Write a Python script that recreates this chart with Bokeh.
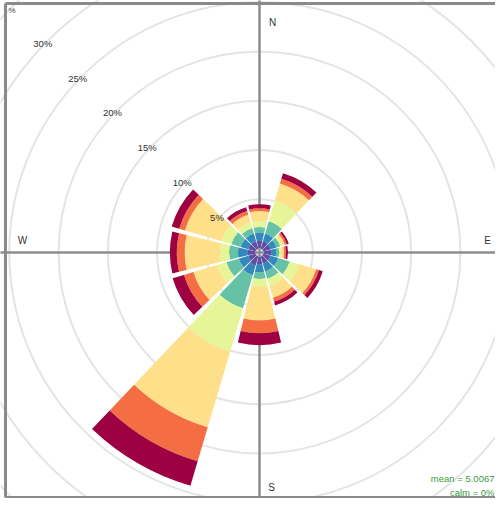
import math
from bokeh.plotting import figure
from bokeh.models import Range1d
from bokeh.embed import file_html
from bokeh.resources import INLINE
from bokeh.core.properties import value

# ---------------- data ----------------
directions = [0, 30, 60, 90, 120, 150, 180, 210, 240, 270, 300, 330]
speed_bins = ["bin1", "bin2", "bin3", "bin4", "bin5", "bin6", "bin7"]
bin_colors = ["#5E4FA2", "#3288BD", "#66C2A5", "#E6F598", "#FEE08B", "#F46D43", "#9E0142"]

# frequency (%) of each speed bin, per direction
bin1 = [0.8, 0.8, 0.8, 0.8, 0.8, 0.8, 0.8, 1.0, 0.8, 0.8, 0.8, 0.8]
bin2 = [0.8, 0.8, 0.6, 0.5, 0.8, 0.8, 0.8, 1.0, 1.0, 1.0, 0.8, 0.8]
bin3 = [0.6, 1.3, 0.4, 0.3, 1.2, 0.8, 0.7, 3.5, 1.3, 0.9, 1.0, 0.6]
bin4 = [0.6, 2.2, 0.2, 0.2, 1.0, 0.7, 0.8, 4.6, 1.0, 0.9, 1.0, 0.6]
bin5 = [1.0, 1.8, 0.3, 0.3, 1.8, 1.3, 3.4, 8.0, 2.5, 3.6, 3.9, 0.8]
bin6 = [0.3, 0.5, 0.2, 0.2, 0.3, 0.4, 1.3, 3.6, 1.0, 0.8, 0.6, 0.4]
bin7 = [0.4, 0.6, 0.2, 0.2, 0.4, 0.4, 1.2, 2.6, 1.2, 0.7, 0.8, 0.4]
bins = [bin1, bin2, bin3, bin4, bin5, bin6, bin7]

grid_pcts = [5, 10, 15, 20, 25, 30, 35]
grid_labels = ["5%", "10%", "15%", "20%", "25%", "30%"]
compass = ["N", "E", "S", "W"]
stats_text = ["mean = 5.0067", "calm = 0%"]

# ---------------- layout constants ----------------
K = 9.85           # px per percent
OFFSET = 0.4       # centre hole (percent units)
HALF = 13.5        # half width of a wedge (deg)
W, H = 495, 498
CX, CY = 259, 252  # centre in px from figure top-left

def px_x(px):
    return (px - CX) / K

def px_y(py):
    return (CY - py) / K

p = figure(width=W, height=H, output_backend="svg", toolbar_location=None,
           x_range=Range1d(px_x(0), px_x(W)),
           y_range=Range1d(px_y(H), px_y(0)),
           min_border=0, background_fill_color="white")
p.axis.visible = False
p.grid.visible = False
p.outline_line_color = None

# grid circles
p.circle(x=[0] * len(grid_pcts), y=[0] * len(grid_pcts),
         radius=[OFFSET + g for g in grid_pcts], radius_units="data",
         fill_color=None, line_color="#e4e4e4", line_width=2)

# axis lines
big = 60
p.segment(x0=[-big, 0], y0=[0, -big], x1=[big, 0], y1=[0, big],
          line_color="#8c8c8c", line_width=2.5)

# wedges
xs, ys, inner, outer, starts, ends, cols = [], [], [], [], [], [], []
for j, d in enumerate(directions):
    cum = 0.0
    for i, b in enumerate(bins):
        v = b[j]
        inner.append(OFFSET + cum)
        cum += v
        outer.append(OFFSET + cum)
        a = 90 - d
        starts.append(a - HALF)
        ends.append(a + HALF)
        cols.append(bin_colors[i])
        xs.append(0)
        ys.append(0)
p.annular_wedge(x=xs, y=ys, inner_radius=inner, outer_radius=outer,
                start_angle=starts, end_angle=ends, start_angle_units="deg",
                end_angle_units="deg", fill_color=cols, line_color=None)

# calm circle
p.circle(x=[0], y=[0], radius=[OFFSET], fill_color=None, line_color="#b0a0c0", line_width=1)

# panel border (left, top, bottom)
bl, bt, bb, br = px_x(5), px_y(3), px_y(497), px_x(W + 10)
p.segment(x0=[bl, bl, bl], y0=[bb, bt, bb], x1=[bl, br, br], y1=[bt, bt, bb],
          line_color="#8a8a8a", line_width=3)

# percent labels along the NW diagonal
lx = [-(OFFSET + g) / math.sqrt(2) - 0.5 for g in grid_pcts[:len(grid_labels)]]
ly = [(OFFSET + g) / math.sqrt(2) - 0.25 for g in grid_pcts[:len(grid_labels)]]
p.text(x=lx, y=ly, text=grid_labels, text_font=value("Liberation Sans"),
       text_font_size="9.5px", text_color="#333333", text_align="center",
       text_baseline="middle")

# compass labels
cpos = [(272, 22), (487, 240), (271, 487), (22, 240)]
p.text(x=[px_x(c[0]) for c in cpos], y=[px_y(c[1]) for c in cpos], text=compass,
       text_font=value("Liberation Sans"), text_font_size="10px",
       text_color="#333333", text_align="center", text_baseline="middle")

# % corner label
p.text(x=[px_x(8)], y=[px_y(5)], text=["%"],
       text_font=value("Liberation Sans"), text_font_size="8px",
       text_color="#444444", text_align="left", text_baseline="top")

# stats
p.text(x=[px_x(494)] * 2, y=[px_y(478), px_y(492)], text=stats_text,
       text_font=value("Liberation Sans"), text_font_size="9.5px",
       text_color="#3c9a3c", text_align="right", text_baseline="middle")

open("out.html", "w").write(file_html(p, INLINE))
